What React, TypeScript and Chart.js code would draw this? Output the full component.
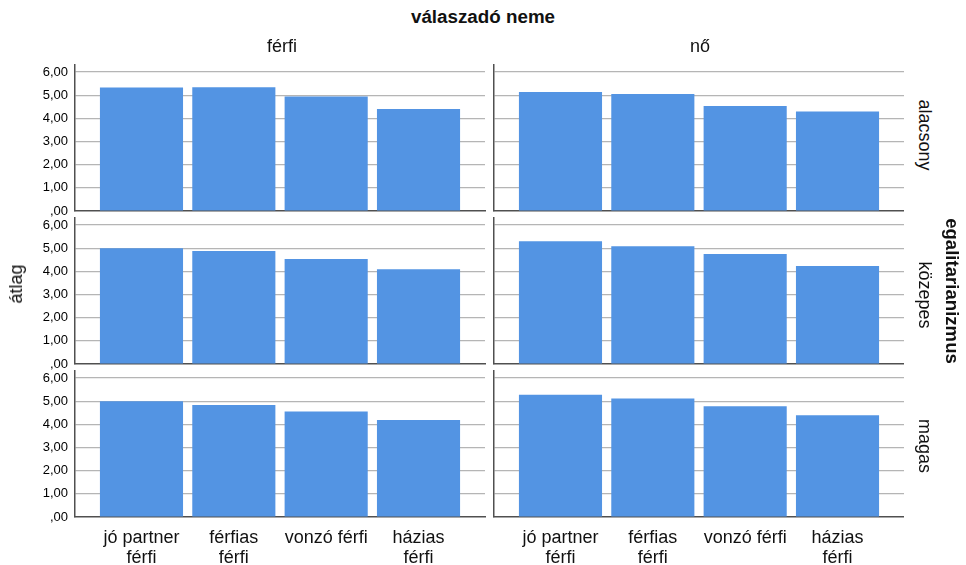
import React, { useEffect, useRef } from 'react';
import { Chart, registerables } from 'chart.js';

Chart.register(...registerables);

// ---- data ----
const categories: string[][] = [
  ['jó partner', 'férfi'],
  ['férfias', 'férfi'],
  ['vonzó férfi'],
  ['házias', 'férfi'],
];
const genders = ['férfi', 'nő'];
const levels = ['alacsony', 'közepes', 'magas'];
const yTickValues = [0, 1, 2, 3, 4, 5, 6];

const ferfiAlacsony = [5.33, 5.34, 4.94, 4.40];
const noAlacsony = [5.14, 5.05, 4.53, 4.29];
const ferfiKozepes = [5.00, 4.88, 4.53, 4.09];
const noKozepes = [5.30, 5.08, 4.75, 4.23];
const ferfiMagas = [4.99, 4.83, 4.55, 4.19];
const noMagas = [5.28, 5.11, 4.78, 4.39];

const panelValues = [
  [ferfiAlacsony, noAlacsony],
  [ferfiKozepes, noKozepes],
  [ferfiMagas, noMagas],
];

const FONT = '"Liberation Sans", Arial, sans-serif';
const BAR = '#5394e3';
const GRID = '#b5b5b5';
const AXIS = '#505050';

// ---- layout ----
const rowTops = [65, 218, 371];
const plotH = 146;
const padTop = 12;
const colLefts = [0, 490];
const colWidths = [490, 414];
const colYAxisW = [75, 4];
const colPadRight = [5, 0];

type PanelProps = {
  values: number[];
  row: number;
  col: number;
};

function Panel({ values, row, col }: PanelProps) {
  const ref = useRef<HTMLCanvasElement | null>(null);
  const isBottom = row === 2;
  const showY = col === 0;
  const xAxisH = isBottom ? 48 : 12;
  const left = colLefts[col];
  const width = colWidths[col];
  const top = rowTops[row] - padTop;
  const height = padTop + plotH + xAxisH;

  useEffect(() => {
    if (!ref.current) return;
    const chart = new Chart(ref.current, {
      type: 'bar',
      data: {
        datasets: [
          {
            data: values.map((v, i) => ({ x: i, y: v })),
            backgroundColor: BAR,
            borderWidth: 0,
            categoryPercentage: 1,
            barPercentage: 0.9,
          } as any,
        ],
      },
      options: {
        animation: false,
        responsive: false,
        maintainAspectRatio: false,
        devicePixelRatio: 1,
        layout: { padding: { top: padTop, right: colPadRight[col], left: 0, bottom: 0 } },
        plugins: {
          legend: { display: false },
          tooltip: { enabled: false },
          title: { display: false },
        },
        scales: {
          x: {
            type: 'linear',
            offset: false,
            min: -0.72,
            max: 3.72,
            grid: { display: false, drawTicks: false, offset: false },
            border: { display: true, color: AXIS, width: 1.5 },
            afterBuildTicks: (scale: any) => {
              scale.ticks = categories.map((_, i) => ({ value: i }));
            },
            afterFit: (scale: any) => {
              scale.height = xAxisH;
            },
            ticks: {
              display: isBottom,
              padding: 11,
              color: '#111',
              font: { family: FONT, size: 18, lineHeight: 1.1 },
              maxRotation: 0,
              autoSkip: false,
              callback: (v: any) => {
                const idx = Math.round(Number(v));
                return categories[idx] ?? '';
              },
            },
          },
          y: {
            type: 'linear',
            min: 0,
            max: 6.3,
            grid: {
              drawTicks: true,
              tickLength: 7,
              tickColor: 'rgba(0,0,0,0)',
              color: (ctx: any) => (ctx.tick && ctx.tick.value === 0 ? 'rgba(0,0,0,0)' : GRID),
              lineWidth: 1.2,
            },
            border: { display: true, color: AXIS, width: 1.5 },
            afterBuildTicks: (scale: any) => {
              scale.ticks = yTickValues.map((v) => ({ value: v }));
            },
            afterFit: (scale: any) => {
              scale.width = colYAxisW[col];
            },
            ticks: {
              display: showY,
              padding: 0,
              color: '#000',
              font: { family: FONT, size: 13 },
              callback: (v: any) => {
                const n = Number(v);
                return n === 0 ? ',00' : n.toFixed(2).replace('.', ',');
              },
            },
          },
        },
      } as any,
    });
    return () => chart.destroy();
  }, [values, row, col]);

  return (
    <canvas
      ref={ref}
      width={width}
      height={height}
      style={{ position: 'absolute', left, top, width, height }}
    />
  );
}

function Label({
  text,
  x,
  y,
  size = 18,
  bold = false,
  rotate = 0,
}: {
  text: string;
  x: number;
  y: number;
  size?: number;
  bold?: boolean;
  rotate?: number;
}) {
  return (
    <div
      style={{
        position: 'absolute',
        left: x,
        top: y,
        transform: `translate(-50%, -50%) rotate(${rotate}deg)`,
        fontFamily: FONT,
        fontSize: size,
        fontWeight: bold ? 700 : 400,
        lineHeight: `${size}px`,
        whiteSpace: 'nowrap',
        color: '#111',
      }}
    >
      {text}
    </div>
  );
}

export default function App() {
  const colCenters = [282, 700];
  const rowLabelY = [135, 295, 446];
  return (
    <div
      style={{
        position: 'absolute',
        left: 0,
        top: 0,
        width: 966,
        height: 565,
        background: '#fff',
        overflow: 'hidden',
      }}
    >
      {panelValues.map((rowVals, r) =>
        rowVals.map((vals, c) => <Panel key={`${r}-${c}`} values={vals} row={r} col={c} />)
      )}
      <Label text="válaszadó neme" x={483} y={17} size={18.8} bold />
      {genders.map((g, i) => (
        <Label key={g} text={g} x={colCenters[i]} y={45.5} />
      ))}
      {levels.map((l, i) => (
        <Label key={l} text={l} x={925} y={rowLabelY[i]} rotate={90} />
      ))}
      <Label text="egalitarianizmus" x={952} y={291} size={18.6} bold rotate={90} />
      <Label text="átlag" x={16} y={284} rotate={-90} />
    </div>
  );
}
